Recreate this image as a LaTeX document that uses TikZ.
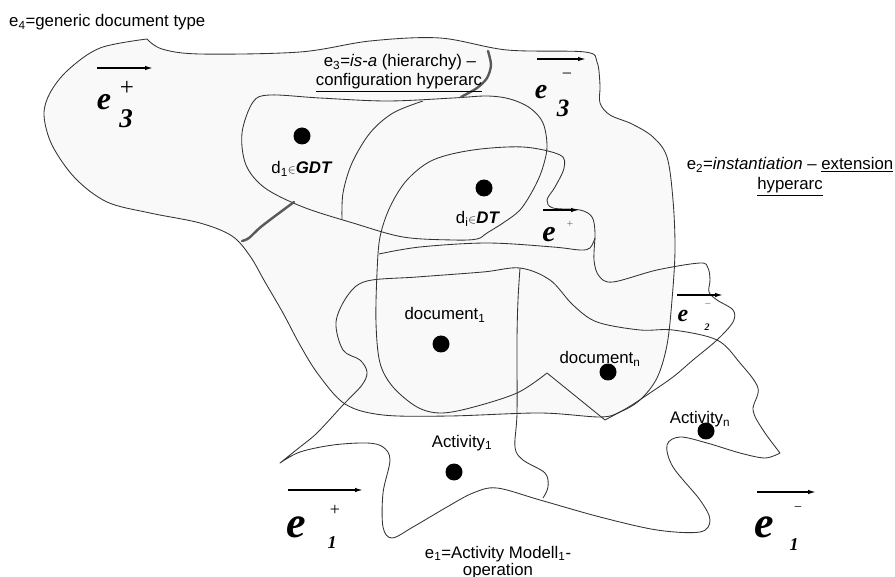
\documentclass[tikz,border=0pt]{standalone}
\usepackage{fontspec}
\setmainfont{Liberation Sans}
\newfontfamily\symfont{Liberation Serif}
\usetikzlibrary{arrows.meta}

\newcommand{\elem}{{\fontsize{12}{12}\selectfont$\in$}}

\begin{document}
\begin{tikzpicture}[x=1pt,y=-1pt,
  outline/.style={draw=black!80, line width=0.85pt, line join=round},
  sepline/.style={draw=black!65, line width=2.4pt, line cap=round},
  dot/.style={circle, fill=black, inner sep=0pt, minimum size=17pt},
  lbl/.style={inner sep=0pt, anchor=base, font=\fontsize{16.8}{19}\selectfont},
  dirarrow/.style={-{Latex[length=8pt,width=4.5pt]}, line width=1.4pt},
  esym/.style={inner sep=0pt, font=\symfont\bfseries\itshape},
  pm/.style={inner sep=0pt, font=\symfont},
]
\useasboundingbox (0,0) rectangle (895,577);

% e4: generic document type (light grey region)
\draw[outline, fill=black!2.5] plot[smooth, tension=0.55] coordinates {
  (147,39) (162,49) (200,54) (300,52) (370,41) (440,38) (507,50) (585,52)
  (597,62) (600,85) (600,103) (610,115) (632,124) (653,137) (667,157)
  (673,200) (675,250) (672,300) (667,345) (657,378) (640,400) (620,412)
  (600,417) (540,413) (450,416) (383,415) (345,404) (318,374) (300,345)
  (283,313) (265,282) (250,256) (232,236) (200,223) (150,213) (107,202)
  (75,178) (52,145) (44,115) (50,93) (68,70) (100,48) (147,39)} -- cycle;

% GDT region with its inner division
\draw[outline] plot[smooth cycle, tension=0.55] coordinates {
  (253,102) (270,95) (320,98) (387,101) (453,98) (487,96) (510,99)
  (530,108) (543,123) (547,147) (542,170) (533,190) (520,210) (503,223)
  (487,233) (477,239) (453,240) (403,237) (353,223) (303,207) (265,188)
  (246,165) (242,133)};
\draw[outline] plot[smooth, tension=0.55] coordinates {
  (342,220) (343,193) (352,163) (370,133) (393,113) (423,101)};

% e3 separators
\draw[sepline] plot[smooth] coordinates {(242,241) (249,238) (262,226) (294,202)};
\draw[sepline] plot[smooth] coordinates {(488,51) (491,65) (487,78) (477,88) (461,97)};

% e2: instantiation region
\draw[outline] plot[smooth, tension=0.55] coordinates {
  (547,373) (517,393) (470,408) (440,413) (417,407) (393,387) (380,363)
  (376,323) (377,273) (380,237) (390,207) (407,180) (433,160) (473,150)
  (523,147) (560,155) (564,168) (555,187) (547,200) (553,208) (580,210)
  (592,217) (595,233) (594,260) (599,276) (613,282) (657,270) (700,263)
  (708,268) (710,280) (709,292) (717,300) (733,310) (733,322) (717,340)
  (693,360) (673,377) (647,395) (627,408) (605,420)} -- cycle;
\draw[outline] plot[smooth, tension=0.55] coordinates {
  (379,254) (420,247) (487,243) (553,247) (580,250) (590,248) (595,238)};

% e1: activity region
\draw[outline] plot[smooth, tension=0.55] coordinates {
  (280,463) (300,447) (317,433) (343,405) (362,385) (367,372) (360,360)
  (343,350) (336,322) (348,295) (367,281) (417,277) (483,272) (520,268)
  (550,280) (573,305) (597,322) (640,330) (673,330) (717,340) (740,363)
  (758,388) (753,410) (763,430) (780,453)}
  -- plot[smooth, tension=0.55] coordinates {
  (780,453) (765,458) (740,453) (707,443) (680,437) (667,445) (673,467)
  (700,500) (710,520) (700,532) (657,530) (600,517) (540,500) (497,488)
  (473,493) (447,507) (413,527) (392,538) (383,527) (383,493) (390,460)
  (383,447) (367,443) (333,445) (300,452) (280,463)} -- cycle;
\draw[outline] plot[smooth, tension=0.55] coordinates {
  (520,268) (518,300) (517,340) (517,413) (515,447) (523,460) (545,473)
  (548,487) (543,498)};

% elements
\node[dot] (d1) at (302,136) {};
\node[dot] (di) at (484,188) {};
\node[dot] (doc1) at (441,344) {};
\node[dot] (docn) at (608,372) {};
\node[dot] (act1) at (454,472) {};
\node[dot] (actn) at (706,431) {};

\node[lbl] (d1l) at (302,174) {d\textsubscript{1}\elem\textbf{\textit{GDT}}};
\node[lbl] (dil) at (478,224) {d\textsubscript{i}\elem\textbf{\textit{DT}}};
\node[lbl] (doc1l) at (445,320) {document\textsubscript{1}};
\node[lbl] (docnl) at (600,364) {document\textsubscript{n}};
\node[lbl] (act1l) at (462,447) {Activity\textsubscript{1}};
\node[lbl] (actnl) at (700,424) {Activity\textsubscript{n}};

% captions
\node[lbl, anchor=base west] (t4) at (9,27) {e\textsubscript{4}=generic document type};
\node[lbl] (t3a) at (400,67) {e\textsubscript{3}=\textit{is-a} (hierarchy) –};
\node[lbl] (t3b) at (399,86) {\underline{configuration hyperarc}};
\node[lbl] (t2a) at (790,170) {e\textsubscript{2}=\textit{instantiation} – \underline{extension}};
\node[lbl] (t2b) at (790,190) {\underline{hyperarc}};
\node[lbl] (t1a) at (498,558) {e\textsubscript{1}=Activity Modell\textsubscript{1}-};
\node[lbl] (t1b) at (498,575) {operation};

% direction marks
\coordinate (a3p0) at (97,68);  \coordinate (a3p1) at (153,68);
\coordinate (a3m0) at (537,59); \coordinate (a3m1) at (586,59);
\coordinate (a2p0) at (543,210); \coordinate (a2p1) at (579,210);
\coordinate (a2m0) at (677,295); \coordinate (a2m1) at (723,295);
\coordinate (a1p0) at (288,490); \coordinate (a1p1) at (363,490);
\coordinate (a1m0) at (757,492); \coordinate (a1m1) at (816,492);
\draw[dirarrow] (a3p0) -- (a3p1);
\draw[dirarrow] (a3m0) -- (a3m1);
\draw[dirarrow] (a2p0) -- (a2p1);
\draw[dirarrow] (a2m0) -- (a2m1);
\draw[dirarrow] (a1p0) -- (a1p1);
\draw[dirarrow] (a1m0) -- (a1m1);

% e3+
\node[esym, font=\symfont\bfseries\itshape\fontsize{32}{32}\selectfont] (e3pe) at (104,102) {e};
\node[pm, font=\symfont\fontsize{25}{25}\selectfont] (e3ps) at (127,88) {+};
\node[esym, font=\symfont\bfseries\itshape\fontsize{27}{27}\selectfont] (e3pi) at (126,119) {3};
% e3-
\node[esym, font=\symfont\bfseries\itshape\fontsize{28}{28}\selectfont] (e3me) at (541,92) {e};
\node[pm, font=\symfont\fontsize{18}{18}\selectfont] (e3ms) at (567,76) {−};
\node[esym, font=\symfont\bfseries\itshape\fontsize{25}{25}\selectfont] (e3mi) at (563,108) {3};
% e2+
\node[esym, font=\symfont\bfseries\itshape\fontsize{30}{30}\selectfont] (e2pe) at (549,235) {e};
\node[pm, text=black!60, font=\symfont\fontsize{11}{11}\selectfont] (e2ps) at (570,224) {+};
% e2-
\node[esym, font=\symfont\bfseries\itshape\fontsize{24}{24}\selectfont] (e2me) at (683,316) {e};
\node[pm, text=black!60, font=\symfont\fontsize{11}{11}\selectfont] (e2ms) at (708,306) {−};
\node[esym, font=\symfont\bfseries\itshape\fontsize{10}{10}\selectfont] (e2mi) at (707,327) {2};
% e1+
\node[esym, font=\symfont\bfseries\itshape\fontsize{44}{44}\selectfont] (e1pe) at (296,527) {e};
\node[pm, font=\symfont\fontsize{18}{18}\selectfont] (e1ps) at (335,510) {+};
\node[esym, font=\symfont\bfseries\itshape\fontsize{18}{18}\selectfont] (e1pi) at (332,543) {1};
% e1-
\node[esym, font=\symfont\bfseries\itshape\fontsize{44}{44}\selectfont] (e1me) at (764,527) {e};
\node[pm, font=\symfont\fontsize{14}{14}\selectfont] (e1ms) at (798,509) {−};
\node[esym, font=\symfont\bfseries\itshape\fontsize{18}{18}\selectfont] (e1mi) at (794,545) {1};
\end{tikzpicture}
\end{document}
